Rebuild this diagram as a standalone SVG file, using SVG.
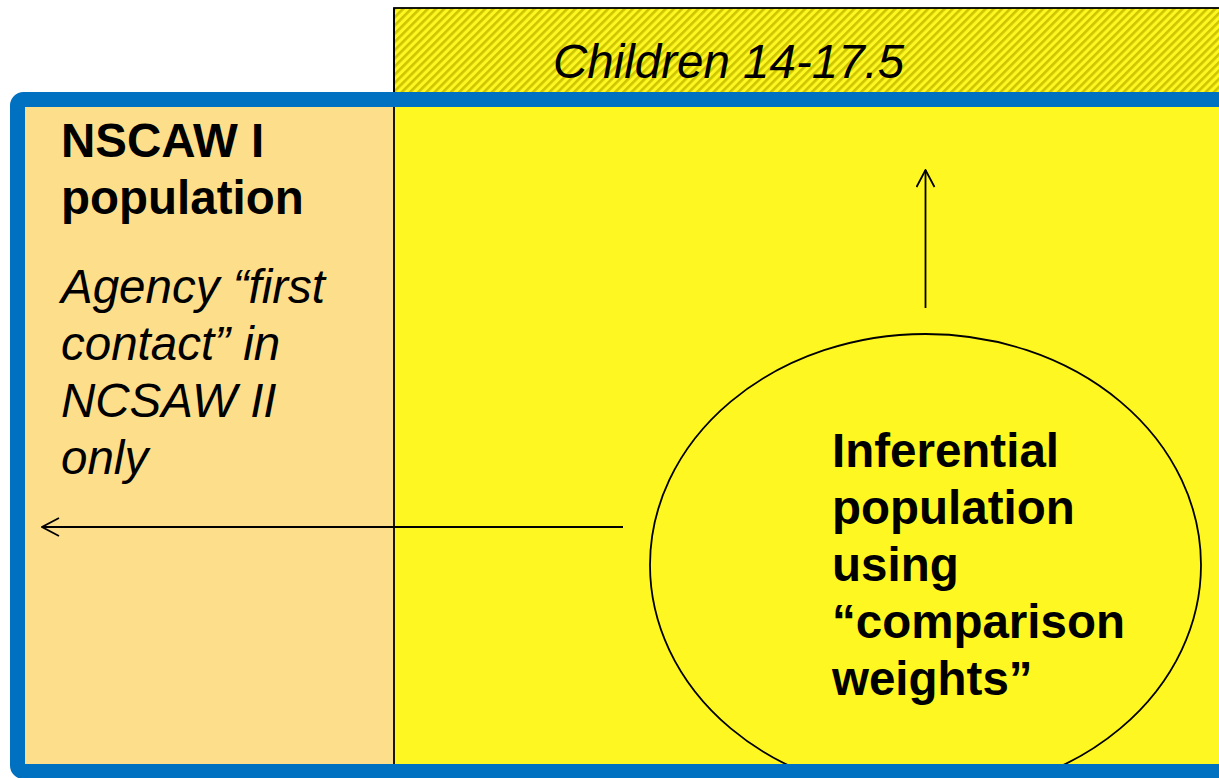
<svg xmlns="http://www.w3.org/2000/svg" width="1219" height="778" viewBox="0 0 1219 778">
<defs>
<pattern id="hatch" patternUnits="userSpaceOnUse" width="5.8" height="5.8" patternTransform="rotate(45)">
<rect width="5.8" height="5.8" fill="#FFF722"/>
<rect width="2.6" height="5.8" fill="#CCC500"/>
</pattern>
<marker id="arr" viewBox="0 0 20 20" refX="19" refY="10" markerWidth="20" markerHeight="20" markerUnits="userSpaceOnUse" orient="auto">
<path d="M2 1 L19 10 L2 19" fill="none" stroke="#000" stroke-width="1.8"/>
</marker>
<style>
.t{font-family:"Liberation Sans",Arial,sans-serif;font-size:47.5px;fill:#000}
.b{font-weight:bold}
.i{font-style:italic}
.ln{stroke:#000;stroke-width:1.8;fill:none}
</style>
</defs>
<rect width="1219" height="778" fill="#fff"/>
<g id="children">
<rect x="394" y="8" width="840" height="92" fill="url(#hatch)" stroke="#000" stroke-width="1.8"/>
<text class="t i" x="553" y="78">Children 14-17.5</text>
</g>
<g id="nscaw1">
<rect x="18" y="100" width="376" height="672" fill="#FDDE8B"/>
</g>
<g id="yellow">
<rect x="394" y="100" width="840" height="672" fill="#FFF722"/>
<line x1="394" y1="8" x2="394" y2="772" stroke="#000" stroke-width="1.8"/>
</g>
<g id="inferential">
<ellipse cx="925.5" cy="565" rx="275.5" ry="231" fill="#FFF722" stroke="#000" stroke-width="1.8"/>
<text class="t b"><tspan x="832" y="467">Inferential</tspan><tspan x="832" y="524">population</tspan><tspan x="832" y="581">using</tspan><tspan x="832" y="638">“comparison</tspan><tspan x="832" y="695">weights”</tspan></text>
</g>
<g id="border">
<rect x="17.5" y="99.5" width="1230" height="672" rx="6" fill="none" stroke="#0070C0" stroke-width="15"/>
</g>
<g id="nscaw1-text">
<text class="t b"><tspan x="61" y="157">NSCAW I</tspan><tspan x="61" y="214">population</tspan></text>
<text class="t i"><tspan x="61" y="303">Agency “first</tspan><tspan x="61" y="360">contact” in</tspan><tspan x="61" y="417">NCSAW II</tspan><tspan x="61" y="474">only</tspan></text>
</g>
<g id="connectors">
<line class="ln" x1="623" y1="527" x2="42" y2="527" marker-end="url(#arr)"/>
<line class="ln" x1="925.5" y1="308" x2="925.5" y2="170" marker-end="url(#arr)"/>
</g>
</svg>
